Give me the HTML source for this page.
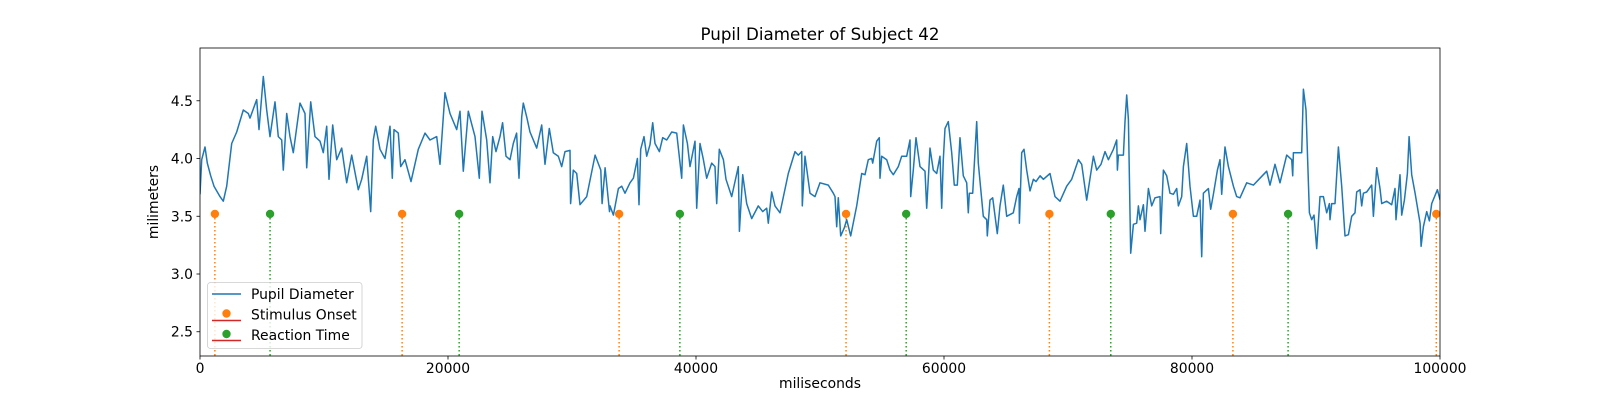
<!DOCTYPE html>
<html><head><meta charset="utf-8"><style>
html,body{margin:0;padding:0;background:#fff;}
svg{display:block;font-family:"DejaVu Sans","Liberation Sans",sans-serif;}
</style></head><body>
<svg id="chart" width="1600" height="400" viewBox="0 0 1600 400" xmlns="http://www.w3.org/2000/svg">
<rect width="1600" height="400" fill="#fff"/>
<text x="820" y="40" font-size="16.7" text-anchor="middle">Pupil Diameter of Subject 42</text>
<g id="plot"></g>
<text x="820" y="388" font-size="13.9" text-anchor="middle">miliseconds</text>
<text transform="translate(158,202) rotate(-90)" font-size="13.9" text-anchor="middle">milimeters</text>
</svg>
<script>
const timeMs = [0,134,403,591,860,1129,1613,1882,2151,2554,2957,3494,3898,4032,4570,4758,5107,5376,5645,6048,6317,6586,6720,6989,7258,7527,8065,8468,8602,8925,9274,9677,9946,10215,10403,10699,11021,11424,11827,12230,12768,13037,13440,13763,13978,14166,14515,14918,15322,15510,15644,15994,16182,16531,17015,17607,18144,18548,19085,19354,19757,20160,20698,20967,21236,21639,22177,22526,22741,23117,23386,23601,23870,24192,24407,24676,24999,25268,25536,25725,25940,26074,26343,26612,27150,27553,27822,28171,28494,28897,29166,29434,29838,29891,30106,30375,30644,31182,31866,32323,32431,32673,33022,
33066,33335,33738,34007,34276,34679,34948,35271,35405,35539,35808,36023,36292,36507,36695,37045,37313,37636,38039,38442,38846,38980,39303,39518,39921,40055,40324,40593,40862,41265,41534,41668,41883,42206,42421,42878,43415,43496,43765,44087,44490,45028,45377,45700,45834,46103,46372,46775,47447,47985,48254,48522,48576,48791,49194,49598,50001,50673,51076,51210,51345,51479,51667,51963,52151,52474,52958,53361,53630,53898,54167,54248,54570,54785,54839,54974,55377,55646,55914,56318,56586,56990,57258,57312,57527,57742,58065,58468,58602,58871,59140,59409,59678,59812,59946,60081,60350,60618,60833,61075,61290,61559,61828,61962,62043,62312,62634,62769,63172,63441,63495,63710,63925,64301,64516,64785,65054,65591,
65864,66052,66079,66267,66455,66670,66939,67208,67423,67746,68014,68552,68955,69358,69896,70299,70837,71106,71509,72046,72315,72665,72987,73256,73659,73928,73982,74062,74466,74600,74734,74869,75057,75272,75541,75675,75810,76078,76213,76482,76750,77019,77422,77476,77691,77960,78229,78498,78766,78901,79170,79304,79573,79842,80110,80379,80648,80782,80917,81320,81508,81723,82046,82261,82395,82664,82933,83336,83605,83874,84411,84949,85486,86024,86293,86696,87099,87637,88040,88121,88174,88846,88981,89196,89465,89653,89841,90056,90325,90594,90862,91077,91131,91266,91534,91803,92072,92341,92610,92878,93147,93282,93550,93685,93819,94088,94491,94626,94895,95164,95298,95701,96104,96373,96454,96776,96911,97126,97368,97506,97720,97989,98392,98473,98661,98930,99145,99333,99790,100005];
const diameterMm = [3.69,3.99,4.10,3.96,3.85,3.76,3.67,3.63,3.76,4.13,4.23,4.42,4.39,4.35,4.51,4.25,4.71,4.42,4.19,4.49,4.19,4.16,3.90,4.39,4.19,4.05,4.48,4.39,3.92,4.49,4.19,4.15,4.05,4.28,3.82,4.29,3.99,4.09,3.79,4.03,3.73,3.82,4.02,3.54,4.16,4.28,4.08,4.00,4.28,3.83,4.25,4.22,3.93,3.99,3.80,4.08,4.22,4.16,4.19,3.95,4.57,4.39,4.25,4.41,3.89,4.41,4.19,3.83,4.41,4.16,3.79,4.19,4.06,4.19,4.31,4.02,3.99,4.13,4.22,3.83,4.36,4.48,4.36,4.23,4.09,4.29,3.95,4.26,4.05,4.02,3.93,4.06,4.07,3.61,3.90,3.87,3.60,3.67,4.03,3.90,3.61,3.92,3.54,
3.59,3.51,3.74,3.76,3.70,3.79,3.83,4.00,3.60,4.08,4.19,4.02,4.12,4.31,4.13,4.06,4.18,4.16,4.23,4.22,3.83,4.29,4.13,3.93,4.15,3.57,4.13,3.99,3.83,3.96,3.93,3.61,4.08,3.99,3.82,3.67,3.93,3.37,3.86,3.61,3.48,3.59,3.54,3.57,3.44,3.71,3.59,3.53,3.87,4.06,4.03,4.06,3.59,4.02,3.70,3.67,3.79,3.77,3.70,3.67,3.41,3.66,3.33,3.40,3.47,3.33,3.59,3.87,3.86,3.99,4.00,3.96,4.15,4.18,3.83,4.02,3.99,3.90,3.86,3.93,4.02,4.02,4.16,3.67,3.90,4.18,3.93,3.89,3.57,4.09,3.90,3.87,4.02,3.57,3.99,4.26,4.32,4.05,3.77,3.77,4.18,3.85,3.79,3.53,3.70,3.70,4.32,3.96,3.50,3.47,3.33,3.64,3.66,3.35,3.59,3.77,3.50,3.53,
3.67,3.74,3.44,4.05,4.08,3.90,3.72,3.82,3.80,3.85,3.82,3.87,3.67,3.63,3.76,3.82,3.99,3.95,3.64,4.02,3.90,3.95,4.06,3.99,4.08,4.16,3.90,4.03,4.03,4.32,4.55,4.34,3.18,3.43,3.44,3.59,3.47,3.60,3.37,3.74,3.59,3.66,3.67,3.35,3.90,3.85,3.70,3.69,3.74,3.59,3.67,3.93,4.13,3.76,3.50,3.50,3.64,3.15,3.70,3.74,3.56,3.69,3.90,3.99,3.69,4.10,3.93,3.76,3.67,3.66,3.79,3.77,3.83,3.89,3.77,3.95,3.79,4.03,3.99,3.85,4.05,4.05,4.60,4.42,3.53,3.47,3.51,3.22,3.67,3.67,3.53,3.61,3.47,3.61,3.61,4.10,3.76,3.33,3.34,3.50,3.53,3.71,3.73,3.59,3.70,3.71,3.77,3.50,3.92,3.74,3.61,3.63,3.60,3.74,3.47,3.86,3.51,3.64,3.87,4.19,3.86,3.70,3.44,3.24,3.41,3.54,3.46,3.61,3.73,3.64];
const stimulusOnsets = [1200,16300,33800,52100,68500,83300,99700];
const reactionTimes = [5650,20900,38700,56950,73450,87750];
const markerLevel = 3.52;
const xTicks = [0,20000,40000,60000,80000,100000];
const yTicks = [2.5,3.0,3.5,4.0,4.5];

const L=200,R=1440,T=48,B=356;
const xMin=0,xMax=100000,yMin=2.29,yMax=4.957;
const sx=v=>L+(v-xMin)/(xMax-xMin)*(R-L);
const sy=v=>B-(v-yMin)/(yMax-yMin)*(B-T);
const NS="http://www.w3.org/2000/svg";
const plot=document.getElementById('plot');
function mk(tag,attrs,parent){const e=document.createElementNS(NS,tag);for(const k in attrs)e.setAttribute(k,attrs[k]);(parent||plot).appendChild(e);return e;}

const clip=mk('clipPath',{id:'clip'});mk('rect',{x:L,y:T,width:R-L,height:B-T},clip);

// stems
function stems(arr,color,nm){
  arr.forEach(v=>{
    const ln=mk('line',{x1:sx(v),x2:sx(v),y1:sy(markerLevel),y2:B,stroke:color,'stroke-width':1.5,'stroke-dasharray':'1.5,2.5','clip-path':'url(#clip)'});
    
    
  });
}
stems(stimulusOnsets,'#ff7f0e','stimulus-onset');
stems(reactionTimes,'#2ca02c','reaction-time');

// line
let d='';
timeMs.forEach((t,i)=>{d+=(i?'L':'M')+sx(t).toFixed(1)+','+sy(diameterMm[i]).toFixed(1);});
const path=mk('path',{d:d,fill:'none',stroke:'#1f77b4','stroke-width':1.5,'stroke-linejoin':'round','clip-path':'url(#clip)'});



// markers
function markers(arr,color,nm){
  arr.forEach(v=>{
    const c=mk('circle',{cx:sx(v),cy:sy(markerLevel),r:4.2,fill:color});
    
    
  });
}
markers(stimulusOnsets,'#ff7f0e','stimulus-onset');
markers(reactionTimes,'#2ca02c','reaction-time');

// axes frame
const frame=mk('rect',{x:L,y:T,width:R-L,height:B-T,fill:'none',stroke:'#000','stroke-width':0.8});



xTicks.forEach(v=>{
  const x=sx(v);
  mk('line',{x1:x,x2:x,y1:B,y2:B+3.5,stroke:'#000','stroke-width':0.8});
  const t=mk('text',{x:x,y:B+17,'font-size':13.9,'text-anchor':'middle'});
  t.textContent=String(v);
  
  
});
yTicks.forEach(v=>{
  const y=sy(v);
  mk('line',{x1:L-3.5,x2:L,y1:y,y2:y,stroke:'#000','stroke-width':0.8});
  const t=mk('text',{x:L-7,y:y+5,'font-size':13.9,'text-anchor':'end'});
  t.textContent=v.toFixed(1);
  
  
});

// legend
const lg=mk('g',{});


mk('rect',{x:207.5,y:282.5,width:154.5,height:66,rx:3,fill:'#fff','fill-opacity':0.8,stroke:'#ccc','stroke-width':0.8},lg);
mk('line',{x1:212,x2:241,y1:294,y2:294,stroke:'#1f77b4','stroke-width':1.5},lg);
mk('line',{x1:212,x2:241,y1:320.5,y2:320.5,stroke:'#d62728','stroke-width':1.5},lg);
mk('circle',{cx:226.5,cy:313.5,r:4.2,fill:'#ff7f0e'},lg);
mk('line',{x1:212,x2:241,y1:340.5,y2:340.5,stroke:'#d62728','stroke-width':1.5},lg);
mk('circle',{cx:226.5,cy:334,r:4.2,fill:'#2ca02c'},lg);
const labels=[['Pupil Diameter',299],['Stimulus Onset',319.5],['Reaction Time',340]];
labels.forEach(([s,y])=>{
  const t=mk('text',{x:251,y:y,'font-size':13.9},lg);
  t.textContent=s;
  
  
});
</script>
</body></html>
